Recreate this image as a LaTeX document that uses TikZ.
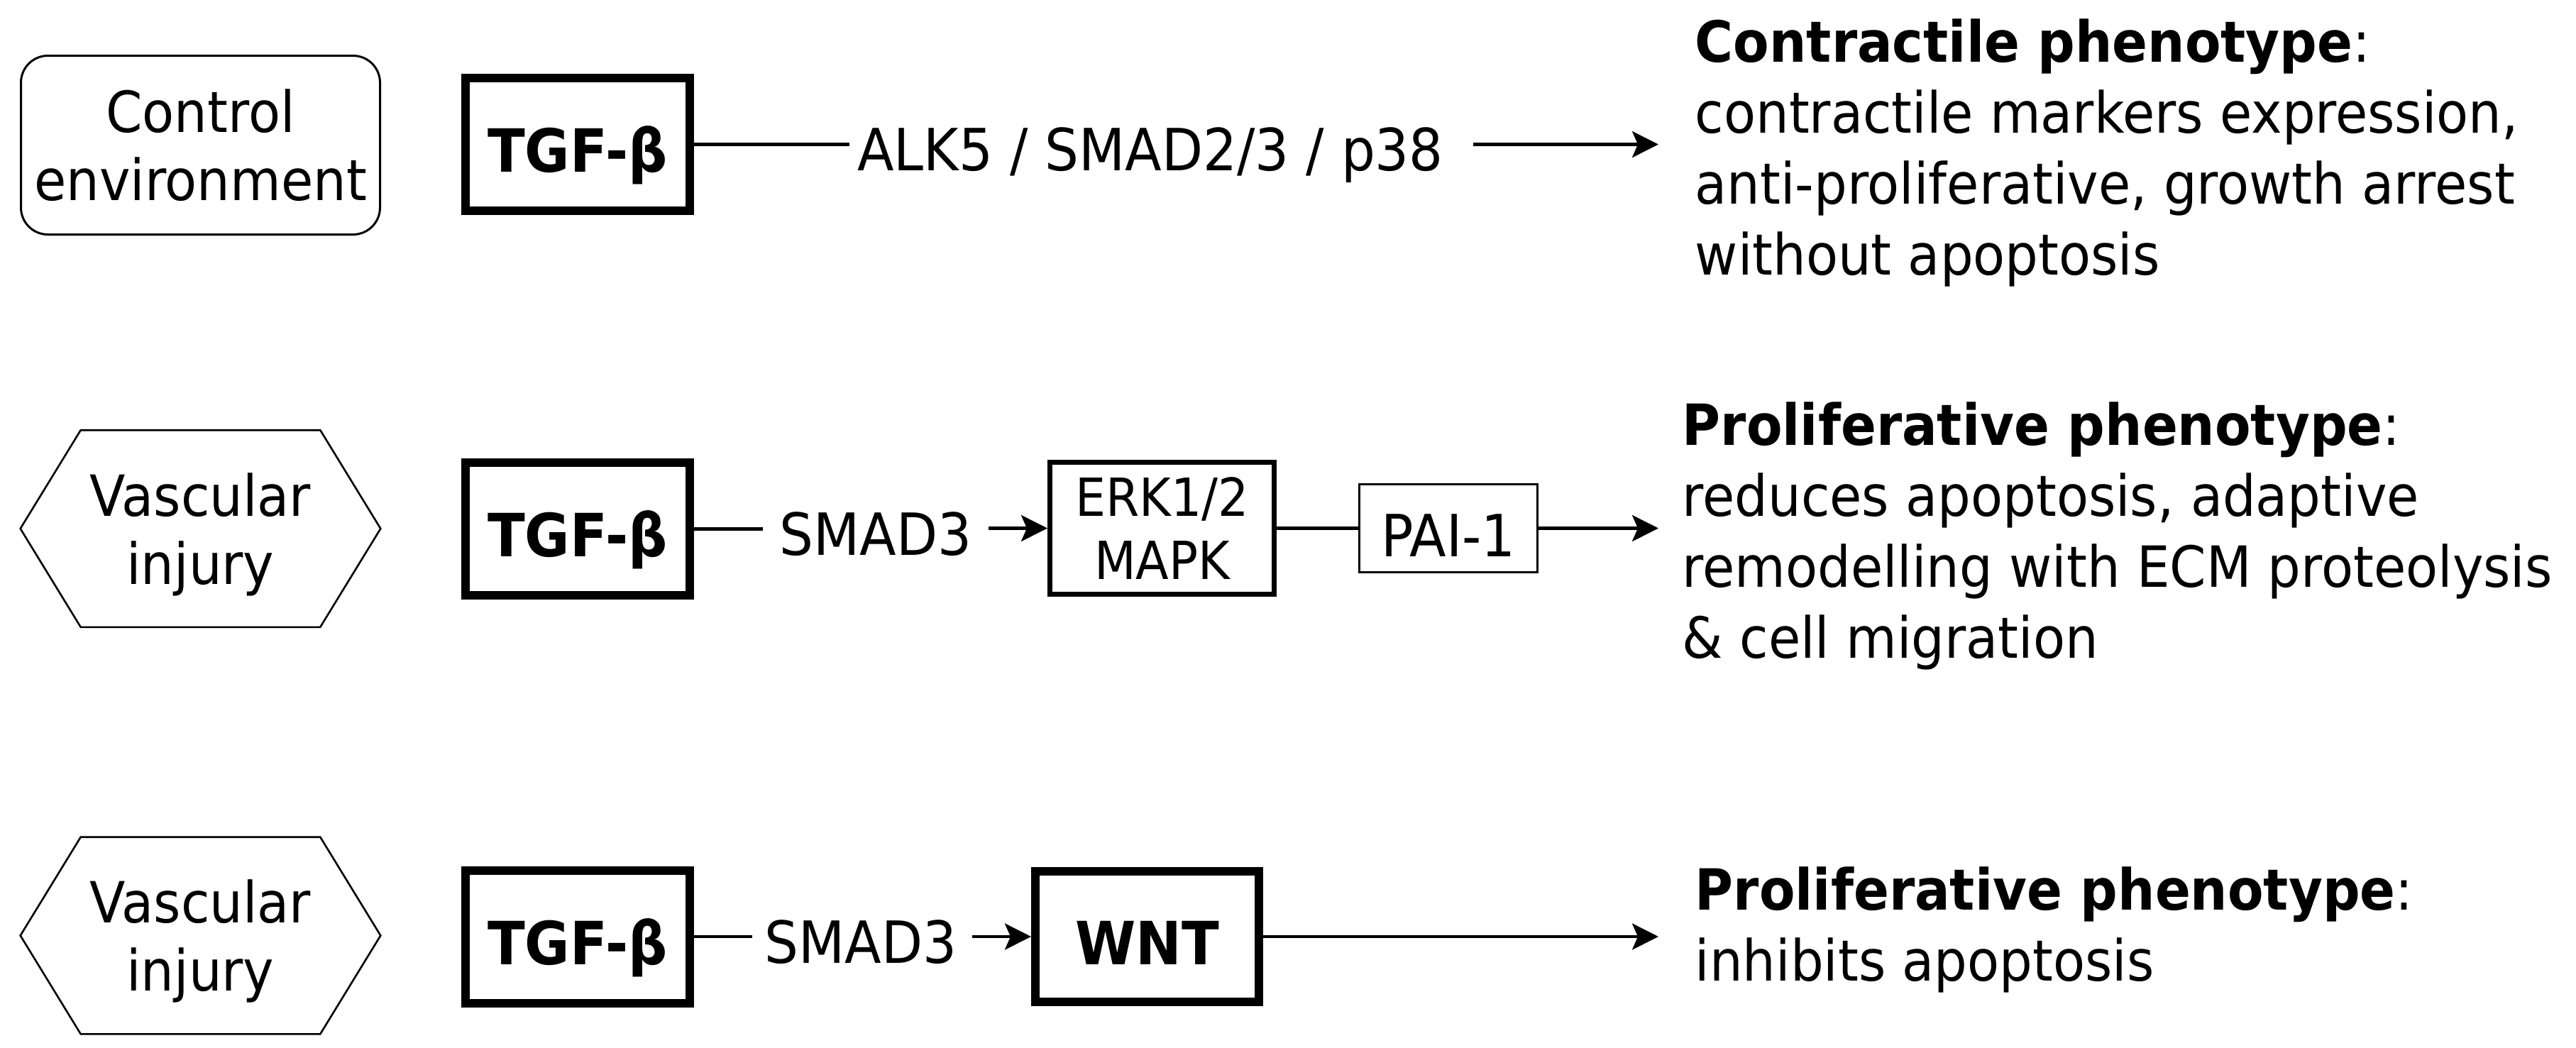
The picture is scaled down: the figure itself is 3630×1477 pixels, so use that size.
\documentclass[tikz,border=0pt]{standalone}
\usepackage{fontspec}
\setmainfont{DejaVu Sans}[FakeStretch=0.92]
\usetikzlibrary{arrows.meta,calc}
\begin{document}
\begin{tikzpicture}[x=0.25pt,y=-0.25pt,
  every node/.style={inner sep=0pt, font=\fontsize{20pt}{24pt}\selectfont},
  conn/.style={line width=1.1pt},
  arr/.style={conn,-{Stealth[length=9.25pt,width=9.25pt,inset=2pt]}},
  ctrlbox/.style={draw, line width=0.75pt, rounded corners=9.5pt, minimum width=126.5pt, minimum height=63pt, align=center},
  hexbox/.style={minimum width=126.5pt, minimum height=69pt, align=center, text depth=0pt},
  hexline/.style={line width=0.65pt},
  tgfbox/.style={draw, line width=3pt, minimum width=79pt, minimum height=46.75pt, font=\fontsize{21pt}{24pt}\selectfont\bfseries, text height=19.5pt, text depth=0pt},
  wntbox/.style={tgfbox, minimum width=78.75pt, minimum height=46pt},
  erkbox/.style={draw, line width=1.75pt, minimum width=79pt, minimum height=46.5pt, align=center, font=\fontsize{18.5pt}{22.25pt}\selectfont},
  paibox/.style={draw, line width=0.75pt, minimum width=62.75pt, minimum height=31pt, font=\fontsize{20.5pt}{24pt}\selectfont, text height=19.75pt, text depth=0pt},
  lbl/.style={font=\fontsize{20.5pt}{24pt}\selectfont},
  phen/.style={align=left, font=\fontsize{20pt}{25pt}\selectfont}
]
\useasboundingbox (0,0) rectangle (3630,1477);

% Row 1
\node[ctrlbox] (ctrl) at (282.5,204.5) {Control\\environment};
\node[tgfbox] (tgf1) at (814,203.5) {TGF-β};
\node[lbl, anchor=base] (alk) at (1621,240) {ALK5 / SMAD2/3 / p38};
\node[phen, anchor=base west] (ph1) at (2388,387) {\textbf{Contractile phenotype}:\\contractile markers expression,\\anti-proliferative, growth arrest\\without apoptosis};
\draw[conn] (tgf1.east) -- ($(tgf1.east -| alk.west)+(-10,0)$);
\draw[arr, shorten >=12.75pt] ($(tgf1.east -| alk.east)+(41,0)$) -- (tgf1.east -| ph1.west);

% Row 2
\node[hexbox] (hex1) at (282.5,745) {Vascular\\injury};
\draw[hexline] (hex1.west) -- ($(hex1.north west)+(85,0)$) -- ($(hex1.north east)+(-85,0)$) -- (hex1.east) -- ($(hex1.south east)+(-85,0)$) -- ($(hex1.south west)+(85,0)$) -- cycle;
\node[tgfbox] (tgf2) at (814,745.5) {TGF-β};
\node[lbl, anchor=base] (smad2) at (1234,782) {SMAD3};
\node[erkbox] (erk) at (1637.5,744.5) {ERK1/2\\MAPK};
\node[paibox] (pai) at (2041,744.5) {PAI-1};
\node[phen, anchor=base west] (ph2) at (2370,927) {\textbf{Proliferative phenotype}:\\reduces apoptosis, adaptive\\remodelling with ECM proteolysis\\\& cell migration};
\draw[conn] (tgf2.east) -- ($(tgf2.east -| smad2.west)+(-23,0)$);
\draw[arr] ($(erk.west -| smad2.east)+(23,0)$) -- (erk.west);
\draw[conn] (erk.east) -- (pai.west);
\draw[arr, shorten >=8.25pt] (pai.east) -- (pai.east -| ph2.west);

% Row 3
\node[hexbox] (hex2) at (282.5,1318.5) {Vascular\\injury};
\draw[hexline] (hex2.west) -- ($(hex2.north west)+(85,0)$) -- ($(hex2.north east)+(-85,0)$) -- (hex2.east) -- ($(hex2.south east)+(-85,0)$) -- ($(hex2.south west)+(85,0)$) -- cycle;
\node[tgfbox] (tgf3) at (814,1320) {TGF-β};
\node[lbl, anchor=base] (smad3) at (1213,1357) {SMAD3};
\node[wntbox] (wnt) at (1616.5,1320) {WNT};
\node[phen, anchor=base west] (ph3) at (2388,1382) {\textbf{Proliferative phenotype}:\\inhibits apoptosis};
\draw[conn] (tgf3.east) -- ($(tgf3.east -| smad3.west)+(-17,0)$);
\draw[arr] ($(wnt.west -| smad3.east)+(21,0)$) -- (wnt.west);
\draw[arr, shorten >=12.75pt] (wnt.east) -- (wnt.east -| ph3.west);
\end{tikzpicture}
\end{document}
